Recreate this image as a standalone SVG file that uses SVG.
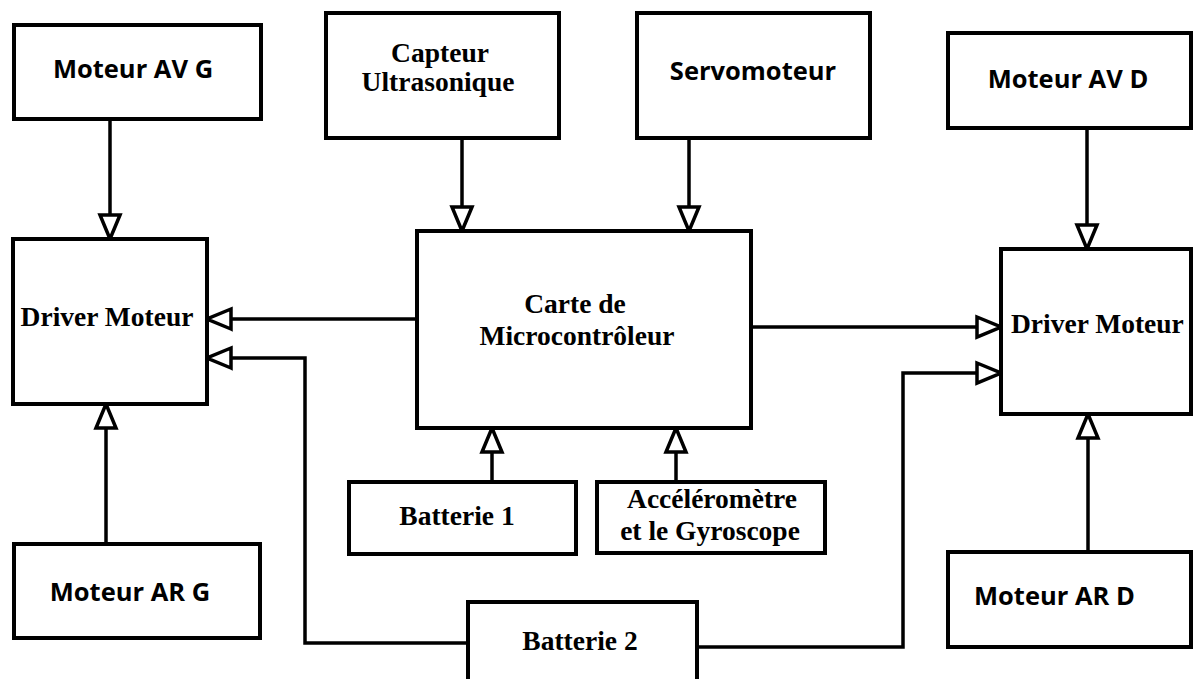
<svg xmlns="http://www.w3.org/2000/svg" width="1193" height="679" viewBox="0 0 1193 679">
<style>
.box{fill:#fff;stroke:#000;stroke-width:4}
.sans{font-family:"Open Sans","Liberation Sans",sans-serif;font-weight:700;font-size:25.5px;fill:#000;text-anchor:middle}
.serif{font-family:"Liberation Serif","Times New Roman",serif;font-weight:700;font-size:27.5px;fill:#000;text-anchor:middle}
.wire{fill:none;stroke:#000;stroke-width:3.5}
</style>
<defs>
<marker id="tri" markerUnits="userSpaceOnUse" markerWidth="30" markerHeight="26" viewBox="0 0 30 26" refX="27" refY="13" orient="auto">
<path d="M3,3 L27,13 L3,23 Z" fill="#fff" stroke="#000" stroke-width="3.5" stroke-linejoin="miter"/>
</marker>
</defs>
<rect width="1193" height="679" fill="#fff"/>
<g id="connectors">
<path class="wire" d="M110,119 V239" marker-end="url(#tri)"/>
<path class="wire" d="M462,138 V231" marker-end="url(#tri)"/>
<path class="wire" d="M689,138 V231" marker-end="url(#tri)"/>
<path class="wire" d="M1087,128 V249" marker-end="url(#tri)"/>
<path class="wire" d="M417,319 H207" marker-end="url(#tri)"/>
<path class="wire" d="M468,643 H305 V358 H207" marker-end="url(#tri)"/>
<path class="wire" d="M751,327 H1001" marker-end="url(#tri)"/>
<path class="wire" d="M697,647 H903 V373 H1001" marker-end="url(#tri)"/>
<path class="wire" d="M106,544 V404" marker-end="url(#tri)"/>
<path class="wire" d="M492,482 V428" marker-end="url(#tri)"/>
<path class="wire" d="M676,482 V428" marker-end="url(#tri)"/>
<path class="wire" d="M1088,552 V414" marker-end="url(#tri)"/>
</g>
<g id="moteur-av-g"><rect class="box" x="14" y="25" width="247" height="94"/><text class="sans" x="133" y="78">Moteur AV G</text></g>
<g id="capteur"><rect class="box" x="326" y="13" width="233" height="125"/><text class="serif" x="440" y="62">Capteur</text><text class="serif" x="438" y="91">Ultrasonique</text></g>
<g id="servomoteur"><rect class="box" x="637" y="13" width="233" height="125"/><text class="sans" x="753" y="80">Servomoteur</text></g>
<g id="moteur-av-d"><rect class="box" x="948" y="33" width="243" height="95"/><text class="sans" x="1068" y="88">Moteur AV D</text></g>
<g id="driver-g"><rect class="box" x="13" y="239" width="194" height="165"/><text class="serif" x="107" y="326">Driver Moteur</text></g>
<g id="microcontroleur"><rect class="box" x="417" y="231" width="334" height="197"/><text class="serif" x="575" y="313">Carte de</text><text class="serif" x="577" y="345">Microcontrôleur</text></g>
<g id="driver-d"><rect class="box" x="1001" y="249" width="190" height="165"/><text class="serif" x="1011" y="333" style="text-anchor:start">Driver Moteur</text></g>
<g id="batterie-1"><rect class="box" x="349" y="482" width="227" height="72"/><text class="serif" x="457" y="525">Batterie 1</text></g>
<g id="accelerometre"><rect class="box" x="597" y="482" width="228" height="71"/><text class="serif" x="712" y="508">Accéléromètre</text><text class="serif" x="710" y="540">et le Gyroscope</text></g>
<g id="moteur-ar-g"><rect class="box" x="14" y="544" width="246" height="94"/><text class="sans" x="130" y="601">Moteur AR G</text></g>
<g id="moteur-ar-d"><rect class="box" x="948" y="552" width="243" height="95"/><text class="sans" x="974" y="605" style="text-anchor:start">Moteur AR D</text></g>
<g id="batterie-2"><rect class="box" x="468" y="602" width="229" height="90"/><text class="serif" x="580" y="650">Batterie 2</text></g>
</svg>
